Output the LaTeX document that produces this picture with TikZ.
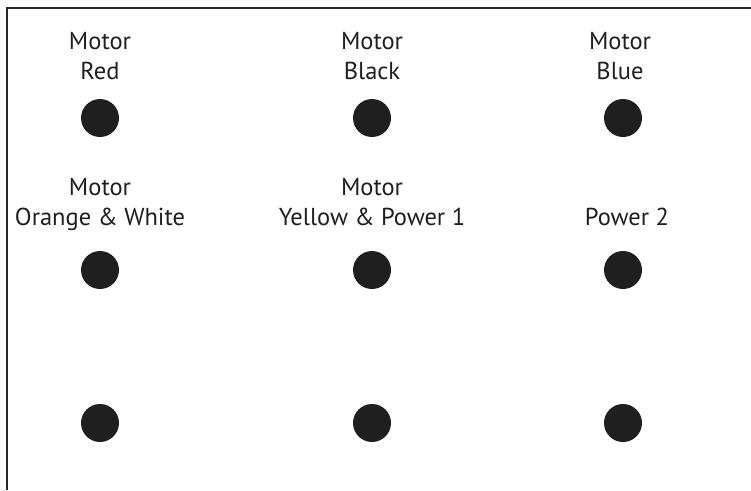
\documentclass[tikz,border=0pt]{standalone}
\usepackage{fontspec}
\setmainfont{PT Sans}
\begin{document}
\begin{tikzpicture}[x=1pt,y=-1pt,
  dot/.style={circle,fill=black!88,inner sep=0pt,minimum size=38pt},
  lbl/.style={align=center,font=\fontsize{24.5}{30}\selectfont,text=black!88,inner sep=0pt}]
\useasboundingbox (0,0) rectangle (751,490);
\coordinate (tl) at (7,8);
\coordinate (tr) at (751,8);
\coordinate (bl) at (7,490);
\draw[line width=2.5pt,black!85] (tr) -- (tl) -- (bl);
\node[dot] (d11) at (100,118) {};
\node[dot] (d12) at (372,118) {};
\node[dot] (d13) at (623,118) {};
\node[dot] (d21) at (100,270) {};
\node[dot] (d22) at (372,270) {};
\node[dot] (d23) at (623,270) {};
\node[dot] (d31) at (100,423) {};
\node[dot] (d32) at (372,423) {};
\node[dot] (d33) at (623,423) {};
\node[lbl] (t11) at (100,58) {\strut Motor\\\strut Red};
\node[lbl] (t12) at (372,58) {\strut Motor\\\strut Black};
\node[lbl] (t13) at (620,58) {\strut Motor\\\strut Blue};
\node[lbl] (t21) at (100,204) {\strut Motor\\\strut Orange \& White};
\node[lbl] (t22) at (372,204) {\strut Motor\\\strut Yellow \& Power 1};
\node[lbl] (t23) at (627,219) {\strut Power 2};
\end{tikzpicture}
\end{document}
